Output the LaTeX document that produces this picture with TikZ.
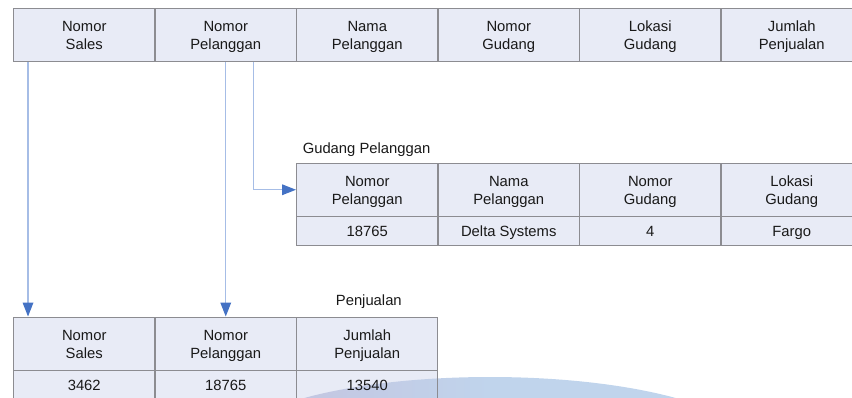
\documentclass[tikz,border=0pt]{standalone}
\usepackage{fontspec}
\setmainfont{Liberation Sans}
\usetikzlibrary{arrows.meta,calc,backgrounds}

\definecolor{cellfill}{RGB}{232,235,246}
\definecolor{cellline}{RGB}{140,140,145}
\definecolor{linkline}{RGB}{166,189,230}
\definecolor{linkhead}{RGB}{68,114,196}
\definecolor{wmpurple}{RGB}{197,193,221}
\definecolor{wmblue}{RGB}{192,212,236}

\begin{document}
\begin{tikzpicture}[x=0.75pt, y=-0.75pt,
  >={Triangle[length=10.5pt, width=8pt, color=linkhead]},
  every cell/.style={draw=cellline, fill=cellfill, line width=0.75pt,
    minimum width=106.1pt, inner sep=0pt, align=center, text=black!90,
    font=\fontsize{11.1}{13.5}\selectfont, execute at end node=\strut},
  head cell/.style={every cell, minimum height=40.1pt,
    execute at begin node={\rule{0pt}{26pt}}},
  data cell/.style={every cell, minimum height=21.4pt,
    execute at begin node={\rule{0pt}{12pt}}},
  link/.style={draw=linkline, line width=0.9pt, ->},
  caption/.style={inner sep=0pt, text=black!90, font=\fontsize{11.1}{13.5}\selectfont}]

\useasboundingbox (0,0) rectangle (852,397);
\clip (0,0) rectangle (852,397);

% top table
\foreach \l [count=\x] in {Nomor\\Sales, Nomor\\Pelanggan, Nama\\Pelanggan, Nomor\\Gudang, Lokasi\\Gudang, Jumlah\\Penjualan}
  \node [head cell] (top-\x) at (141.5*\x-57.25,35) {\l};

% Gudang Pelanggan
\foreach \l [count=\x] in {Nomor\\Pelanggan, Nama\\Pelanggan, Nomor\\Gudang, Lokasi\\Gudang}
  \node [head cell] (gudang-head-\x) at (141.5*\x+225.75,189.75) {\l};

\foreach \l [count=\x] in {18765, Delta Systems, 4, Fargo}
  \node [data cell] (gudang-data-\x) at (141.5*\x+225.75,230.75) {\l};

\node [caption, anchor=west] (gudang-title) at (302.5,150) {Gudang Pelanggan};

% Penjualan
\foreach \l [count=\x] in {Nomor\\Sales, Nomor\\Pelanggan, Jumlah\\Penjualan}
  \node [head cell] (jual-head-\x) at (141.5*\x-57.25,343.75) {\l};

\foreach \l [count=\x] in {3462, 18765, 13540}
  \node [data cell, fill=none] (jual-data-\x) at (141.5*\x-57.25,384.75) {\l};

\node [caption, anchor=east] (jual-title) at (402,302) {Penjualan};

% watermark arc, over the last row fill but under its text
\begin{pgfonlayer}{background}
  \fill [cellfill] (jual-data-1.north west) rectangle (jual-data-3.south east);
  \shade [left color=wmpurple, right color=wmblue, middle color=wmblue]
    (490,447) ellipse [x radius=260, y radius=70];
\end{pgfonlayer}

% links
\draw [link] ($(top-1.south west)+(15,0)$) -- ($(jual-head-1.north west)+(15,0)$);
\draw [link] (top-2.south) -- (jual-head-2.north);
\draw [link] ($(top-2.south west)+(99,0)$) |- (gudang-head-1.west);

\end{tikzpicture}
\end{document}
